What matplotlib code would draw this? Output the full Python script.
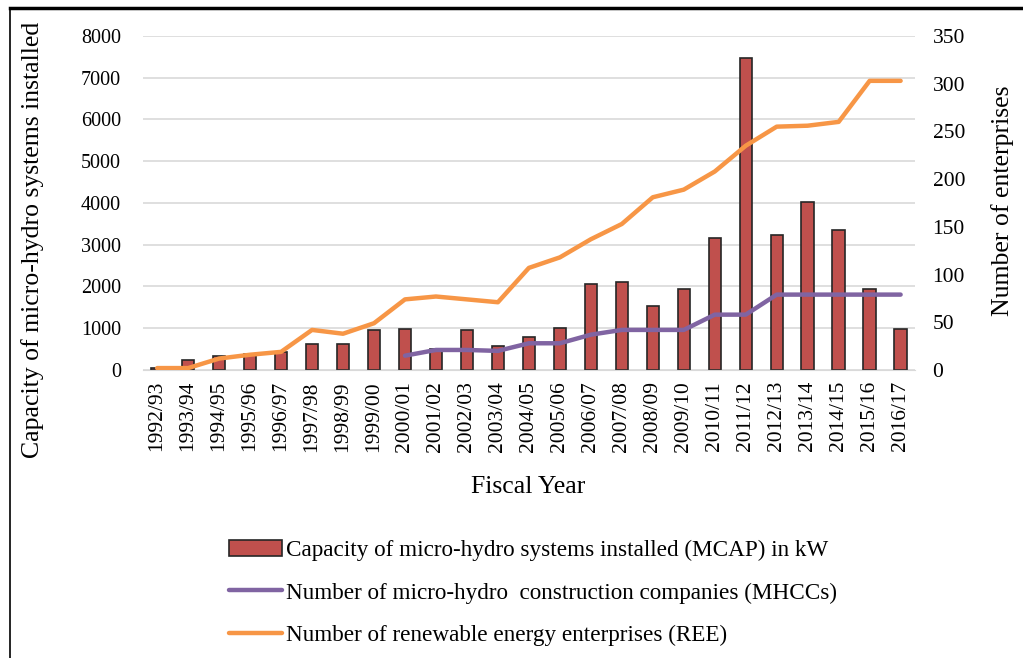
import matplotlib.pyplot as plt
import numpy as np
from matplotlib.lines import Line2D

years = ['1992/93', '1993/94', '1994/95', '1995/96', '1996/97', '1997/98',
         '1998/99', '1999/00', '2000/01', '2001/02', '2002/03', '2003/04',
         '2004/05', '2005/06', '2006/07', '2007/08', '2008/09', '2009/10',
         '2010/11', '2011/12', '2012/13', '2013/14', '2014/15', '2015/16',
         '2016/17']

# capacity installed (kW), left axis
mcap = [40, 240, 335, 380, 420, 630, 620, 950, 980, 500, 950, 575,
        780, 1000, 2070, 2100, 1540, 1950, 3170, 7470, 3230, 4030, 3350,
        1930, 980]

# number of micro-hydro construction companies (from 2000/01), right axis
mhcc = [None] * 8 + [15, 21, 21, 20, 28, 28, 37, 42, 42, 42, 58, 58,
                     79, 79, 79, 79, 79]

# number of renewable energy enterprises, right axis
ree = [2, 2, 12, 16, 19, 42, 38, 49, 74, 77, 74, 71, 107, 118, 137, 153,
       181, 189, 208, 235, 255, 256, 260, 303, 303]

plt.rcParams['font.family'] = ['Liberation Serif', 'DejaVu Serif']

fig = plt.figure(figsize=(10.23, 6.58), dpi=100)
ax = fig.add_axes([0.140, 0.4377, 0.754, 0.5076])
ax2 = ax.twinx()

x = np.arange(len(years))
bars = ax.bar(x, mcap, width=0.4, color='#c0504d', edgecolor='#262626',
              linewidth=1.2, zorder=2,
              label='Capacity of micro-hydro systems installed (MCAP) in kW')

mh = np.array([np.nan if v is None else v for v in mhcc], dtype=float)
l1, = ax2.plot(x, mh, color='#8064a2', lw=3.2, solid_capstyle='round',
               label='Number of micro-hydro  construction companies (MHCCs)')
l2, = ax2.plot(x, ree, color='#f79646', lw=3.2, solid_capstyle='round',
               label='Number of renewable energy enterprises (REE)')

ax.set_ylim(0, 8000)
ax.set_yticks(range(0, 8001, 1000))
ax2.set_ylim(0, 350)
ax2.set_yticks(range(0, 351, 50))
ax.set_xlim(-0.45, len(years) - 0.55)
ax.set_xticks(x)
ax.set_xticklabels(years, rotation=90, fontsize=15.5)

ax.grid(axis='y', color='#d9d9d9', lw=1.2, zorder=0)
ax.set_axisbelow(True)
for a in (ax, ax2):
    for s in a.spines.values():
        s.set_visible(False)
    a.tick_params(length=0)
ax.spines['bottom'].set_visible(True)
ax.spines['bottom'].set_color('#d9d9d9')
ax.tick_params(axis='y', pad=16, labelsize=14.5)
ax2.tick_params(axis='y', pad=13, labelsize=15.5)
ax.tick_params(axis='x', pad=8)

ax.set_ylabel('Capacity of micro-hydro systems installed', fontsize=18.5)
ax.yaxis.set_label_coords(-0.129, 0.39)
ax2.set_ylabel('Number of enterprises', fontsize=18.5)
ax2.yaxis.set_label_coords(1.0996, 0.506)
ax.set_xlabel('Fiscal Year', fontsize=18.5)
ax.xaxis.set_label_coords(0.499, -0.317)

fig.legend(handles=[bars, l1, l2], loc='upper left',
           bbox_to_anchor=(0.224, 0.180), frameon=False, fontsize=16.7,
           handlelength=2.3, handletextpad=0.15, labelspacing=0.93,
           borderaxespad=0, borderpad=0)

# frame edges around the figure crop
fig.add_artist(Line2D([0.0098, 1.0], [0.988, 0.988], color='black', lw=2.5))
fig.add_artist(Line2D([0.0098, 0.0098], [0.0, 0.988], color='black', lw=1.2))

fig.savefig('out.png', dpi=100)
